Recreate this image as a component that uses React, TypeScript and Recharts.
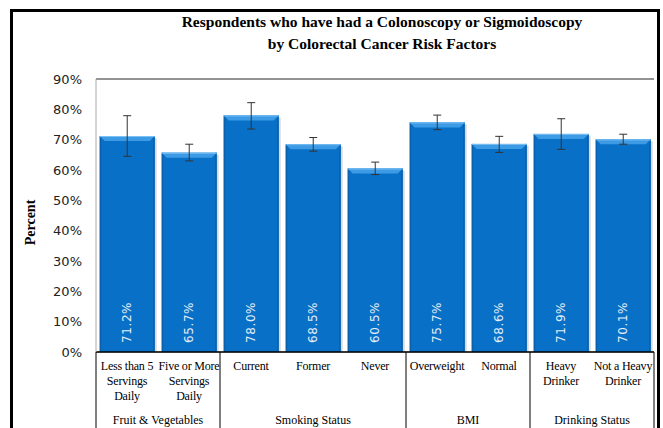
import React from 'react'
import {
  BarChart,
  Bar,
  XAxis,
  YAxis,
  CartesianGrid,
  ErrorBar,
  LabelList,
  ReferenceLine,
} from 'recharts'

const CATEGORIES = [
  'Less than 5 Servings Daily',
  'Five or More Servings Daily',
  'Current',
  'Former',
  'Never',
  'Overweight',
  'Normal',
  'Heavy Drinker',
  'Not a Heavy Drinker',
]

const LABEL_LINES = [
  ['Less than 5', 'Servings', 'Daily'],
  ['Five or More', 'Servings', 'Daily'],
  ['Current'],
  ['Former'],
  ['Never'],
  ['Overweight'],
  ['Normal'],
  ['Heavy', 'Drinker'],
  ['Not a Heavy', 'Drinker'],
]

const VALUES = [71.2, 65.7, 78.0, 68.5, 60.5, 75.7, 68.6, 71.9, 70.1]
const CI_LOW = [64.5, 63.0, 73.5, 66.2, 58.5, 73.3, 65.8, 66.8, 68.5]
const CI_HIGH = [77.9, 68.5, 82.2, 70.7, 62.6, 78.1, 71.1, 76.9, 71.8]

const GROUP_NAMES = ['Fruit & Vegetables', 'Smoking Status', 'BMI', 'Drinking Status']
const GROUP_SIZES = [2, 3, 2, 2]

const Y_TICKS = [0, 10, 20, 30, 40, 50, 60, 70, 80, 90]

const W = 663
const H = 428
const MARGIN = { top: 79, right: 9, left: 0, bottom: 0 }
const Y_AXIS_W = 96
const X_AXIS_H = 76

const data = CATEGORIES.map((name, i) => ({
  name,
  value: VALUES[i],
  err: [VALUES[i] - CI_LOW[i], CI_HIGH[i] - VALUES[i]],
}))

// index where each group starts
const groupStarts: number[] = []
GROUP_SIZES.reduce((acc, n) => {
  groupStarts.push(acc)
  return acc + n
}, 0)

const serif = '"Liberation Serif", "DejaVu Serif", serif'
const sans = '"DejaVu Sans", Verdana, sans-serif'

const BevelBar = (props: any) => {
  const { x, y, width, height } = props
  if (!height || height <= 0) return null
  const b = 5
  return (
    <g>
      <rect x={x + 2} y={y + 2} width={width} height={height - 2} fill="#000" opacity={0.15} />
      <rect x={x} y={y} width={width} height={height} fill="#0870c6" />
      <rect x={x} y={y} width={1.5} height={height} fill="#0a60ad" />
      <rect x={x + width - 1.5} y={y} width={1.5} height={height} fill="#0a60ad" />
      <polygon
        points={`${x},${y} ${x + width},${y} ${x + width - b},${y + b} ${x + b},${y + b}`}
        fill="#3d9be6"
      />
      <line x1={x} y1={y + 0.5} x2={x + width} y2={y + 0.5} stroke="#7cc0f4" strokeWidth={1} />
    </g>
  )
}

const ValueLabel = (props: any) => {
  const { x, y, width, height, value } = props
  const cx = x + width / 2
  const by = y + height - 9
  return (
    <text
      x={cx}
      y={by}
      transform={`rotate(-90 ${cx} ${by})`}
      textAnchor="start"
      dominantBaseline="central"
      fill="#e4eef8"
      fontSize={12}
      fontFamily={sans}
      letterSpacing={0.6}
    >
      {Number(value).toFixed(1)}%
    </text>
  )
}

const CategoryTick = (props: any) => {
  const { x, y, payload, index } = props
  const n = CATEGORIES.length
  const axisW = typeof props.width === 'number' ? props.width : W - MARGIN.left - MARGIN.right - Y_AXIS_W
  const band = axisW / n
  const lines = LABEL_LINES[index] || [payload.value]
  const gi = groupStarts.indexOf(index)
  const left = x - band / 2
  return (
    <g>
      {lines.map((t, k) => (
        <text
          key={k}
          x={x}
          y={y + 18 + k * 15}
          textAnchor="middle"
          fontSize={12}
          letterSpacing={-0.2}
          fontFamily={serif}
          fill="#000"
        >
          {t}
        </text>
      ))}
      {gi >= 0 && (
        <>
          <line x1={left} y1={y} x2={left} y2={y + X_AXIS_H} stroke="#000" strokeWidth={1} />
          <text
            x={left + (GROUP_SIZES[gi] * band) / 2}
            y={y + 72}
            textAnchor="middle"
            fontSize={12}
            fontFamily={serif}
            fill="#000"
          >
            {GROUP_NAMES[gi]}
          </text>
        </>
      )}
      {index === n - 1 && (
        <line x1={x + band / 2} y1={y} x2={x + band / 2} y2={y + X_AXIS_H} stroke="#000" strokeWidth={1} />
      )}
    </g>
  )
}

const PercentLabel = (props: any) => {
  const { viewBox } = props
  const cx = 30
  const cy = viewBox.y + viewBox.height / 2 + 7
  return (
    <text
      x={cx}
      y={cy}
      transform={`rotate(-90 ${cx} ${cy})`}
      textAnchor="middle"
      dominantBaseline="central"
      fontSize={14}
      fontWeight="bold"
      fontFamily={serif}
      fill="#000"
    >
      Percent
    </text>
  )
}

export default function App() {
  return (
    <div
      style={{
        position: 'absolute',
        left: 0,
        top: 0,
        width: W,
        height: H,
        overflow: 'hidden',
        background: '#fff',
      }}
    >
      <div
        style={{
          position: 'absolute',
          left: 10,
          top: 9,
          width: 650,
          height: 600,
          border: '3px solid #000',
          boxSizing: 'border-box',
        }}
      />
      <div
        style={{
          position: 'absolute',
          left: 100,
          top: 11,
          width: 564,
          textAlign: 'center',
          fontFamily: serif,
          fontWeight: 'bold',
          fontSize: 15.5,
          lineHeight: '22px',
          color: '#000',
        }}
      >
        Respondents who have had a Colonoscopy or Sigmoidoscopy
        <br />
        by Colorectal Cancer Risk Factors
      </div>
      <div style={{ position: 'absolute', left: 0, top: 0 }}>
        <BarChart width={W} height={H} data={data} margin={MARGIN} barCategoryGap="6%">
          <CartesianGrid vertical={false} stroke="#a8a8a8" />
          <XAxis
            dataKey="name"
            interval={0}
            tickLine={false}
            tickSize={0}
            tickMargin={0}
            height={X_AXIS_H}
            axisLine={{ stroke: '#000', strokeWidth: 1.5 }}
            tick={<CategoryTick />}
          />
          <YAxis
            yAxisId="l"
            width={Y_AXIS_W}
            domain={[0, 90]}
            ticks={Y_TICKS}
            tickFormatter={(v) => `${v}%`}
            tickLine={false}
            tickSize={6}
            tickMargin={8}
            axisLine={{ stroke: '#a8a8a8' }}
            tick={{ fontSize: 13, fontFamily: sans, fill: '#222' }}
            label={<PercentLabel />}
          />
          <YAxis
            yAxisId="r"
            orientation="right"
            width={0}
            domain={[0, 90]}
            tick={false}
            tickLine={false}
            axisLine={{ stroke: '#a8a8a8' }}
          />
          <ReferenceLine yAxisId="l" y={90} stroke="#555" strokeWidth={1.2} />
          <Bar yAxisId="l" dataKey="value" shape={<BevelBar />} isAnimationActive={false}>
            <LabelList dataKey="value" content={<ValueLabel />} />
            <ErrorBar dataKey="err" width={4} stroke="#333" strokeWidth={1} direction="y" />
          </Bar>
        </BarChart>
      </div>
    </div>
  )
}
